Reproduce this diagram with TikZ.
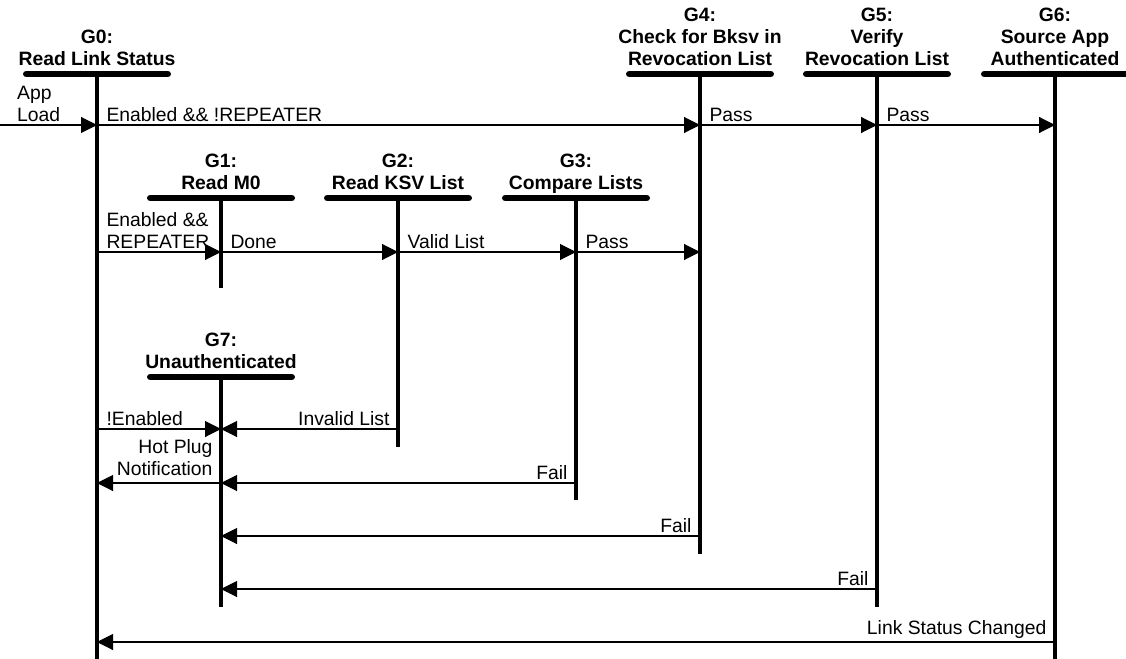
\documentclass[tikz,border=0pt]{standalone}
\usepackage{fontspec}
\setmainfont{Liberation Sans}
\usetikzlibrary{arrows.meta}

\newcommand*{\xmax}{1126}
\newcommand*{\ymax}{659}
\newcommand*{\barlen}{53pt}

\begin{document}
\begin{tikzpicture}
[
	x=0.75pt,
	y=-0.75pt,
	font=\fontsize{14.5pt}{16.75pt}\selectfont,
	lifeline/.style={line width=3pt},
	headbar/.style={line width=5pt,line cap=round},
	head/.style={font=\fontsize{14.5pt}{16.5pt}\selectfont\bfseries,align=center,anchor=south,inner sep=0pt,yshift=3pt,execute at end node={\vphantom{g}}},
	msg/.style={line width=0.8pt,-{Triangle[length=12pt,width=12pt]}},
	lblleft/.style={anchor=south west,align=left,inner xsep=6.75pt,inner ysep=2pt},
	lblright/.style={anchor=south east,align=right,inner xsep=6pt,inner ysep=2pt}
]

	\useasboundingbox (0,0) rectangle (\xmax,\ymax);
	\clip (0,0) rectangle (\xmax,\ymax);

	% lifeline heads
	\coordinate (g0) at (97,74);
	\coordinate (g1) at (221,198);
	\coordinate (g2) at (398,198);
	\coordinate (g3) at (576,198);
	\coordinate (g4) at (700,74);
	\coordinate (g5) at (877,74);
	\coordinate (g6) at (1055,74);
	\coordinate (g7) at (221,377);

	% lifeline ends
	\coordinate (g0e) at (97,670);
	\coordinate (g1e) at (221,288);
	\coordinate (g2e) at (398,447);
	\coordinate (g3e) at (576,500);
	\coordinate (g4e) at (700,554);
	\coordinate (g5e) at (877,607);
	\coordinate (g6e) at (1055,670);
	\coordinate (g7e) at (221,607);

	% message rows
	\coordinate (r1) at (0,125);
	\coordinate (r2) at (0,252);
	\coordinate (r3) at (0,429);
	\coordinate (r4) at (0,483);
	\coordinate (r5) at (0,536);
	\coordinate (r6) at (0,589);
	\coordinate (r7) at (0,642);
	\coordinate (appload) at (0,125);

	% lifelines and bars
	\foreach \g in {0,...,7}{
		\draw[lifeline] (g\g) -- (g\g e);
		\draw[headbar] ([xshift=-\barlen]g\g) -- ([xshift=\barlen]g\g);
	}

	% state names
	\node[head] (h0) at (g0) {G0:\\Read Link Status};
	\node[head] (h1) at (g1) {G1:\\Read M0};
	\node[head] (h2) at (g2) {G2:\\Read KSV List};
	\node[head] (h3) at (g3) {G3:\\Compare Lists};
	\node[head] (h4) at (g4) {G4:\\Check for Bksv in\\Revocation List};
	\node[head] (h5) at (g5) {G5:\\Verify\\Revocation List};
	\node[head] (h6) at (g6) {G6:\\Source App\\Authenticated};
	\node[head] (h7) at (g7) {G7:\\Unauthenticated};

	% forward transitions
	\draw[msg] (appload) -- (g0 |- r1) node[pos=0,lblleft,inner xsep=12.5pt] {App\\Load};
	\draw[msg] (g0 |- r1) -- (g4 |- r1) node[pos=0,lblleft] {Enabled \&\& !REPEATER};
	\draw[msg] (g4 |- r1) -- (g5 |- r1) node[pos=0,lblleft] {Pass};
	\draw[msg] (g5 |- r1) -- (g6 |- r1) node[pos=0,lblleft] {Pass};

	\draw[msg] (g0 |- r2) -- (g1 |- r2) node[pos=0,lblleft] {Enabled \&\&\\REPEATER};
	\draw[msg] (g1 |- r2) -- (g2 |- r2) node[pos=0,lblleft] {Done};
	\draw[msg] (g2 |- r2) -- (g3 |- r2) node[pos=0,lblleft] {Valid List};
	\draw[msg] (g3 |- r2) -- (g4 |- r2) node[pos=0,lblleft] {Pass};

	% failures
	\draw[msg] (g0 |- r3) -- (g7 |- r3) node[pos=0,lblleft] {!Enabled};
	\draw[msg] (g2 |- r3) -- (g7 |- r3) node[pos=0,lblright] {Invalid List};
	\draw[msg] (g7 |- r4) -- (g0 |- r4) node[pos=0,lblright,inner ysep=5pt] {Hot Plug\\Notification};
	\draw[msg] (g3 |- r4) -- (g7 |- r4) node[pos=0,lblright] {Fail};
	\draw[msg] (g4 |- r5) -- (g7 |- r5) node[pos=0,lblright] {Fail};
	\draw[msg] (g5 |- r6) -- (g7 |- r6) node[pos=0,lblright] {Fail};
	\draw[msg] (g6 |- r7) -- (g0 |- r7) node[pos=0,lblright] {Link Status Changed};

\end{tikzpicture}
\end{document}
